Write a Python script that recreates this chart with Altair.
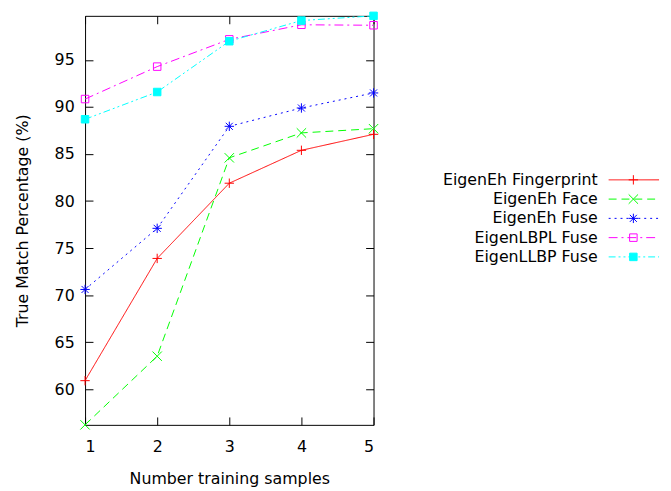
import altair as alt
import pandas as pd

samples = [1, 2, 3, 4, 5]
series = ["EigenEh Fingerprint", "EigenEh Face", "EigenEh Fuse", "EigenLBPL Fuse", "EigenLLBP Fuse"]
fingerprint = [60.9, 73.9, 81.9, 85.4, 87.1]
face = [56.2, 63.5, 84.6, 87.25, 87.7]
fuse = [70.6, 77.1, 87.95, 89.9, 91.5]
lbpl_fuse = [90.85, 94.3, 97.2, 98.75, 98.7]
llbp_fuse = [88.7, 91.6, 97.0, 99.2, 99.7]
y_ticks = [60, 65, 70, 75, 80, 85, 90, 95]
x_ticks = [1, 2, 3, 4, 5]

colors = ["#ff0000", "#00ff00", "#0000ff", "#ff00ff", "#00ffff"]
dashes = [[1, 0], [8, 5], [2, 4], [9, 4, 2, 4], [7, 3, 2, 3, 2, 3]]
shapes = [
    "M-1,0L1,0M0,-1L0,1",
    "M-1,-1L1,1M-1,1L1,-1",
    "M-1,0L1,0M0,-1L0,1M-0.75,-0.75L0.75,0.75M-0.75,0.75L0.75,-0.75",
    "M-0.8,-0.8L0.8,-0.8L0.8,0.8L-0.8,0.8Z",
    "M-0.8,-0.8L0.8,-0.8L0.8,0.8L-0.8,0.8Z",
]
fills = ["transparent", "transparent", "transparent", "transparent", "#00ffff"]

values = [fingerprint, face, fuse, lbpl_fuse, llbp_fuse]
rows = []
for name, vals in zip(series, values):
    for s, v in zip(samples, vals):
        rows.append({"samples": s, "value": v, "series": name})
df = pd.DataFrame(rows)
legend_df = pd.DataFrame({"series": series})

FONT = "DejaVu Sans"
color_scale = alt.Scale(domain=series, range=colors)
dash_scale = alt.Scale(domain=series, range=dashes)
shape_scale = alt.Scale(domain=series, range=shapes)
fill_scale = alt.Scale(domain=series, range=fills)
xs = alt.Scale(domain=[1, 5], nice=False, zero=False)
ys = alt.Scale(domain=[56.2, 99.7], nice=False, zero=False)

tick_axis = dict(labels=False, domain=False, ticks=True, tickSize=8, tickColor="black",
                 tickWidth=1, title=None, grid=False, offset=-8)

lines = alt.Chart(df).mark_line(strokeWidth=1, clip=False).encode(
    x=alt.X("samples:Q", scale=xs,
            axis=alt.Axis(orient="bottom", values=x_ticks, ticks=False, domain=False, grid=False,
                          labelFontSize=16, labelFont=FONT, labelColor="black", labelPadding=14,
                          title="Number training samples", titleFont=FONT, titleFontSize=16,
                          titleFontWeight="normal", titleColor="black", titlePadding=16)),
    y=alt.Y("value:Q", scale=ys,
            axis=alt.Axis(orient="left", values=y_ticks, ticks=False, domain=False, grid=False,
                          labelFontSize=16, labelFont=FONT, labelColor="black", labelPadding=11,
                          title="True Match Percentage (%)", titleFont=FONT, titleFontSize=16,
                          titleFontWeight="normal", titleColor="black", titlePadding=24)),
    color=alt.Color("series:N", scale=color_scale, legend=None),
    strokeDash=alt.StrokeDash("series:N", scale=dash_scale, legend=None),
    detail="series:N",
)

points = alt.Chart(df).mark_point(size=90, strokeWidth=1, opacity=1, clip=False,
                                  strokeJoin="round").encode(
    x=alt.X("samples:Q", scale=xs, axis=alt.Axis(orient="top", values=x_ticks, **tick_axis)),
    y=alt.Y("value:Q", scale=ys, axis=alt.Axis(orient="right", values=y_ticks, **tick_axis)),
    shape=alt.Shape("series:N", scale=shape_scale, legend=None),
    stroke=alt.Stroke("series:N", scale=color_scale, legend=None),
    fill=alt.Fill("series:N", scale=fill_scale, legend=None),
)

ticks_layer = alt.Chart(df).mark_point(opacity=0).encode(
    x=alt.X("samples:Q", scale=xs, axis=alt.Axis(orient="bottom", values=x_ticks, **tick_axis)),
    y=alt.Y("value:Q", scale=ys, axis=alt.Axis(orient="left", values=y_ticks, **tick_axis)),
)

main = alt.layer(lines, points, ticks_layer).resolve_axis(x="independent", y="independent").properties(
    width=292, height=414, view=alt.ViewBackground(stroke="black", strokeWidth=1)
)

ly = alt.Y("series:N", scale=alt.Scale(type="point", domain=series, range=[166, 244], padding=0),
           axis=None)
leg_text = alt.Chart(legend_df).mark_text(align="right", baseline="middle", font=FONT,
                                          fontSize=16, color="black").encode(
    x=alt.value(200), y=ly, text="series:N")
leg_rule = alt.Chart(legend_df).mark_rule(strokeWidth=1).encode(
    x=alt.value(211), x2=alt.value(262), y=ly,
    color=alt.Color("series:N", scale=color_scale, legend=None),
    strokeDash=alt.StrokeDash("series:N", scale=dash_scale, legend=None),
)
leg_pts = alt.Chart(legend_df).mark_point(size=90, strokeWidth=1, opacity=1).encode(
    x=alt.value(236), y=ly,
    shape=alt.Shape("series:N", scale=shape_scale, legend=None),
    stroke=alt.Stroke("series:N", scale=color_scale, legend=None),
    fill=alt.Fill("series:N", scale=fill_scale, legend=None),
)
legend = alt.layer(leg_rule, leg_pts, leg_text).properties(
    width=265, height=414, view=alt.ViewBackground(stroke="transparent")
)

chart = alt.hconcat(main, legend, spacing=20).properties(
    padding={"left": 6, "top": 0, "right": 0, "bottom": 0}
).configure_view(stroke="transparent")

chart.save("out.html", embed_options={"renderer": "svg", "actions": False})
